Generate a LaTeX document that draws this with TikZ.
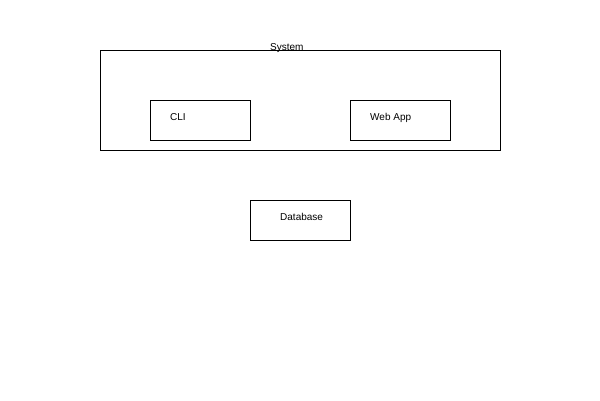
\documentclass[tikz,border=0pt]{standalone}
\usepackage{fontspec}
\setmainfont{Liberation Sans}
\begin{document}
\begin{tikzpicture}[x=1pt,y=-1pt,
  box/.style={draw=black,line width=0.8pt},
  lbl/.style={inner sep=0pt,anchor=base west,font=\fontsize{10}{12}\selectfont}]
\useasboundingbox (0,0) rectangle (600,400);
\draw[box] (100,50) rectangle (500,150);
\node[lbl] (sys) at (270,50) {System};
\draw[box] (150,100) rectangle (250,140);
\node[lbl] (cli) at (170,120) {CLI};
\draw[box] (350,100) rectangle (450,140);
\node[lbl] (web) at (370,120) {Web App};
\draw[box] (250,200) rectangle (350,240);
\node[lbl] (db) at (280,220) {Database};
\end{tikzpicture}
\end{document}
